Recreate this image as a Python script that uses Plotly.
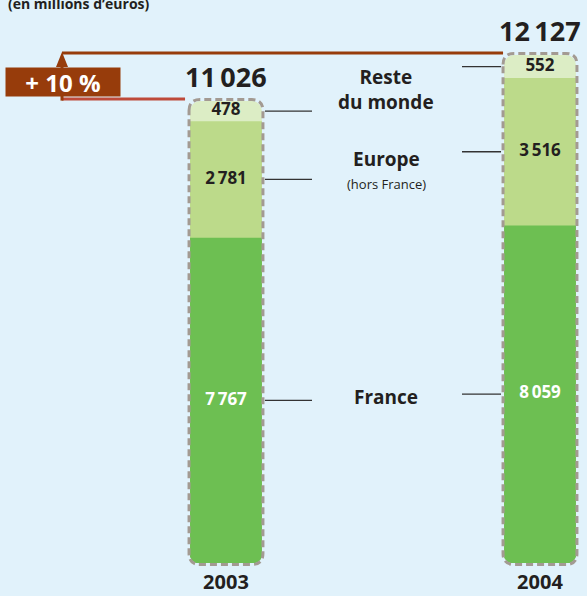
import plotly.graph_objects as go

# ---------------- data ----------------
years = ["2003", "2004"]
france = [7767, 8059]
europe = [2781, 3516]
reste = [478, 552]
totals = [11026, 12127]
growth_label = "+ 10 %"
unit_title = "(en millions d’euros)"
name_reste = "Reste<br>du monde"
name_europe = ["Europe", "(hors France)"]
name_france = "France"

# ---------------- styles ----------------
BG = "#E1F2FB"
C_RESTE = "#DCEDC5"
C_EUROPE = "#BCDA8A"
C_FRANCE = "#6DBF52"
BORDER = "#A39A92"
BROWN = "#973C0B"
RED = "#BE4A3A"
TXT = "#231F20"
FONT = "Open Sans"

W, H = 587, 596
MB = 33
PH = H - MB
YMAX = 13440
X0, X1 = -0.7197, 1.1497
BW = 0.229
UNIT = W / (X1 - X0)


def fmt(v):
    return f"{v:,}".replace(",", "\u2009")


def px_x(xv):
    return (xv - X0) / (X1 - X0) * W


def px_y(v):
    return PH - v / YMAX * PH


def pxp(px):
    return px / W


def pyp(py):
    return (PH - py) / PH


xs = list(range(len(years)))
cum_fe = [f + e for f, e in zip(france, europe)]
cum_all = [c + r for c, r in zip(cum_fe, reste)]

mid_fr = [f / 2 for f in france]
mid_eu = [f + e / 2 for f, e in zip(france, europe)]
mid_re = [c + r / 2 for c, r in zip(cum_fe, reste)]

fig = go.Figure()
for vals, col in [(cum_all, C_RESTE), (cum_fe, C_EUROPE), (france, C_FRANCE)]:
    fig.add_trace(go.Bar(x=xs, y=vals, width=BW,
                         marker=dict(color=col, cornerradius=10, line=dict(width=0)),
                         hoverinfo="skip", showlegend=False))

lab_font = dict(family=FONT, size=17, color=TXT, weight="bold")
fig.add_trace(go.Scatter(x=xs, y=mid_re, mode="text", text=[fmt(v) for v in reste],
                         textfont=lab_font, showlegend=False, hoverinfo="skip"))
fig.add_trace(go.Scatter(x=xs, y=mid_eu, mode="text", text=[fmt(v) for v in europe],
                         textfont=lab_font, showlegend=False, hoverinfo="skip"))
fig.add_trace(go.Scatter(x=xs, y=mid_fr, mode="text", text=[fmt(v) for v in france],
                         textfont=dict(family=FONT, size=17, color="white", weight="bold"),
                         showlegend=False, hoverinfo="skip"))

shapes = []
annotations = []


def ann(x, y, text, font, xanchor="center", yanchor="middle", **kw):
    d = dict(x=x, y=y, xref="paper", yref="paper", text=text, showarrow=False,
             xanchor=xanchor, yanchor=yanchor, font=font)
    d.update(kw)
    annotations.append(d)


# bottom corner masks + dashed rounded borders
r = 10
for i in xs:
    L = px_x(i) - BW / 2 * UNIT
    R = px_x(i) + BW / 2 * UNIT
    B = PH
    T = px_y(cum_all[i])
    shapes.append(dict(type="path", xref="paper", yref="paper", layer="above",
                       path=f"M {pxp(L-1)},{pyp(B+1)} L {pxp(L-1)},{pyp(B-r)} Q {pxp(L)},{pyp(B)} {pxp(L+r)},{pyp(B+1)} Z",
                       fillcolor=BG, line=dict(width=0)))
    shapes.append(dict(type="path", xref="paper", yref="paper", layer="above",
                       path=f"M {pxp(R+1)},{pyp(B+1)} L {pxp(R+1)},{pyp(B-r)} Q {pxp(R)},{pyp(B)} {pxp(R-r)},{pyp(B+1)} Z",
                       fillcolor=BG, line=dict(width=0)))
    l, rr, t, b, k = L - 1, R + 1, T - 1.5, B + 1.5, 11
    path = (f"M {pxp(l)},{pyp(t+k)} Q {pxp(l)},{pyp(t)} {pxp(l+k)},{pyp(t)} "
            f"L {pxp(rr-k)},{pyp(t)} Q {pxp(rr)},{pyp(t)} {pxp(rr)},{pyp(t+k)} "
            f"L {pxp(rr)},{pyp(b-k)} Q {pxp(rr)},{pyp(b)} {pxp(rr-k)},{pyp(b)} "
            f"L {pxp(l+k)},{pyp(b)} Q {pxp(l)},{pyp(b)} {pxp(l)},{pyp(b-k)} Z")
    shapes.append(dict(type="path", xref="paper", yref="paper", layer="above", path=path,
                       line=dict(color=BORDER, width=3, dash="7px,4px")))
    annotations.append(dict(x=i, y=totals[i], xref="x", yref="y", text=f"<b>{fmt(totals[i])}</b>",
                            showarrow=False, xanchor="center", yanchor="bottom", yshift=4,
                            font=dict(family=FONT, size=27, color=TXT)))

# connector lines
LEG_L, LEG_R, LEG_C = 312, 462, 386
bar0_R = px_x(0) + BW / 2 * UNIT + 3
bar0_L = px_x(0) - BW / 2 * UNIT - 3
bar1_L = px_x(1) - BW / 2 * UNIT - 3
for mids in (mid_re, mid_eu, mid_fr):
    shapes.append(dict(type="line", xref="paper", yref="y", x0=pxp(bar0_R), x1=pxp(LEG_L),
                       y0=mids[0], y1=mids[0], line=dict(color="#333333", width=1.3)))
    shapes.append(dict(type="line", xref="paper", yref="y", x0=pxp(LEG_R), x1=pxp(bar1_L),
                       y0=mids[1], y1=mids[1], line=dict(color="#333333", width=1.3)))


# legend labels
def avg_py(mids):
    return (px_y(mids[0]) + px_y(mids[1])) / 2


leg_bold = dict(family=FONT, size=19, color=TXT, weight="bold")
yr = avg_py(mid_re)
ann(pxp(LEG_C), pyp(yr + 1), name_reste, leg_bold)
ye = avg_py(mid_eu)
ann(pxp(LEG_C), pyp(ye - 7), name_europe[0], leg_bold)
ann(pxp(LEG_C), pyp(ye + 18), name_europe[1], dict(family=FONT, size=13, color=TXT))
yf = avg_py(mid_fr)
ann(pxp(LEG_C), pyp(yf), name_france, leg_bold)

# growth bracket (drawn below, so the label box covers the arrow shaft)
AX = 62
up_py = px_y(totals[1]) - 2
lo_py = px_y(totals[0]) - 2
shapes.append(dict(type="line", xref="paper", yref="paper", layer="below", x0=pxp(AX), x1=pxp(bar1_L + 2),
                   y0=pyp(up_py), y1=pyp(up_py), line=dict(color=BROWN, width=3)))
shapes.append(dict(type="line", xref="paper", yref="paper", layer="below", x0=pxp(AX), x1=pxp(bar0_L - 2),
                   y0=pyp(lo_py), y1=pyp(lo_py), line=dict(color=RED, width=3)))
shapes.append(dict(type="line", xref="paper", yref="paper", layer="below", x0=pxp(AX), x1=pxp(AX),
                   y0=pyp(lo_py + 1.5), y1=pyp(up_py + 10), line=dict(color=BROWN, width=3)))
shapes.append(dict(type="path", xref="paper", yref="paper", layer="below",
                   path=f"M {pxp(AX)},{pyp(up_py - 1)} L {pxp(AX-6)},{pyp(up_py + 14)} L {pxp(AX+6)},{pyp(up_py + 14)} Z",
                   fillcolor=BROWN, line=dict(width=0)))
box_c = lo_py - 17
ann(pxp(63), pyp(box_c), f"<b>{growth_label}</b>", dict(family=FONT, size=24, color="white"),
    bgcolor=BROWN, width=114, height=28, borderpad=0, align="center", valign="middle")

# unit title (partly cut at top)
ann(pxp(6), pyp(3), f"<b>{unit_title}</b>", dict(family=FONT, size=14, color=TXT), xanchor="left")

fig.update_layout(
    width=W, height=H,
    margin=dict(l=0, r=0, t=0, b=MB, pad=0),
    paper_bgcolor=BG, plot_bgcolor=BG,
    barmode="overlay",
    showlegend=False,
    shapes=shapes,
    annotations=annotations,
    xaxis=dict(range=[X0, X1], tickvals=xs, ticktext=[f"<b>{y}</b>" for y in years],
               tickfont=dict(family=FONT, size=20, color=TXT), showgrid=False, zeroline=False,
               showline=False, ticks="", ticklabelstandoff=5, fixedrange=True),
    yaxis=dict(range=[0, YMAX], visible=False, showgrid=False, zeroline=False, fixedrange=True),
)

fig.write_html("out.html", config={"displayModeBar": False},
               post_script="document.body.style.margin='0';document.body.style.padding='0';")
